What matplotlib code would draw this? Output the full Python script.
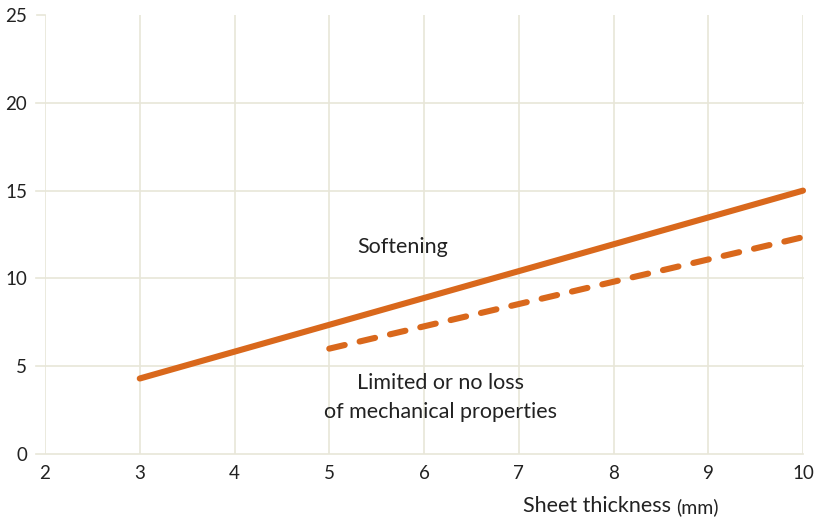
import matplotlib.pyplot as plt

# data
softening_x = [3, 10]
softening_y = [4.3, 15.0]
limit_x = [5, 10]
limit_y = [6.0, 12.35]
xticks = [2, 3, 4, 5, 6, 7, 8, 9, 10]
yticks = [0, 5, 10, 15, 20, 25]

orange = '#d9681c'
grid_col = '#e8e6d8'
text_col = '#222222'

plt.rcParams['font.family'] = ['Lato', 'DejaVu Sans']

fig = plt.figure(figsize=(8.14, 5.27), dpi=100)
ax = fig.add_axes([0.0553, 0.1385, 0.9312, 0.833])

ax.set_xlim(2, 10)
ax.set_ylim(0, 25)

# grid
for x in xticks:
    ax.axvline(x, color=grid_col, lw=1.2, zorder=0)
for y in yticks[:-1]:
    ax.axhline(y, color=grid_col, lw=1.2, zorder=0, xmin=-0.012, xmax=1.0, clip_on=False)
ax.plot([1.92, 2.0], [25, 25], color=grid_col, lw=1.2, clip_on=False)

for s in ax.spines.values():
    s.set_visible(False)

ax.set_xticks(xticks)
ax.set_yticks(yticks)
ax.tick_params(length=0, labelsize=13.5, labelcolor=text_col)
ax.tick_params(axis='x', pad=8)
ax.tick_params(axis='y', pad=13)

ax.plot(softening_x, softening_y, color=orange, lw=4.4, solid_capstyle='round', clip_on=False)
ax.plot(limit_x, limit_y, color=orange, lw=4.4, dash_capstyle='round',
        dashes=(2.6, 2.5), clip_on=False)

ax.text(5.77, 11.8, 'Softening', ha='center', va='center', fontsize=15.5, color=text_col)
ax.text(6.17, 3.2, 'Limited or no loss\nof mechanical properties', ha='center', va='center',
        fontsize=15.5, color=text_col, linespacing=1.55)

t = fig.text(0.642, 0.028, 'Sheet thickness', ha='left', va='baseline', fontsize=15.5, color=text_col)
ax.annotate('(mm)', xy=(1, 0), xycoords=t, xytext=(4, 0), textcoords='offset points',
            ha='left', va='bottom', fontsize=14, color=text_col)

fig.savefig('out.png', dpi=100)
